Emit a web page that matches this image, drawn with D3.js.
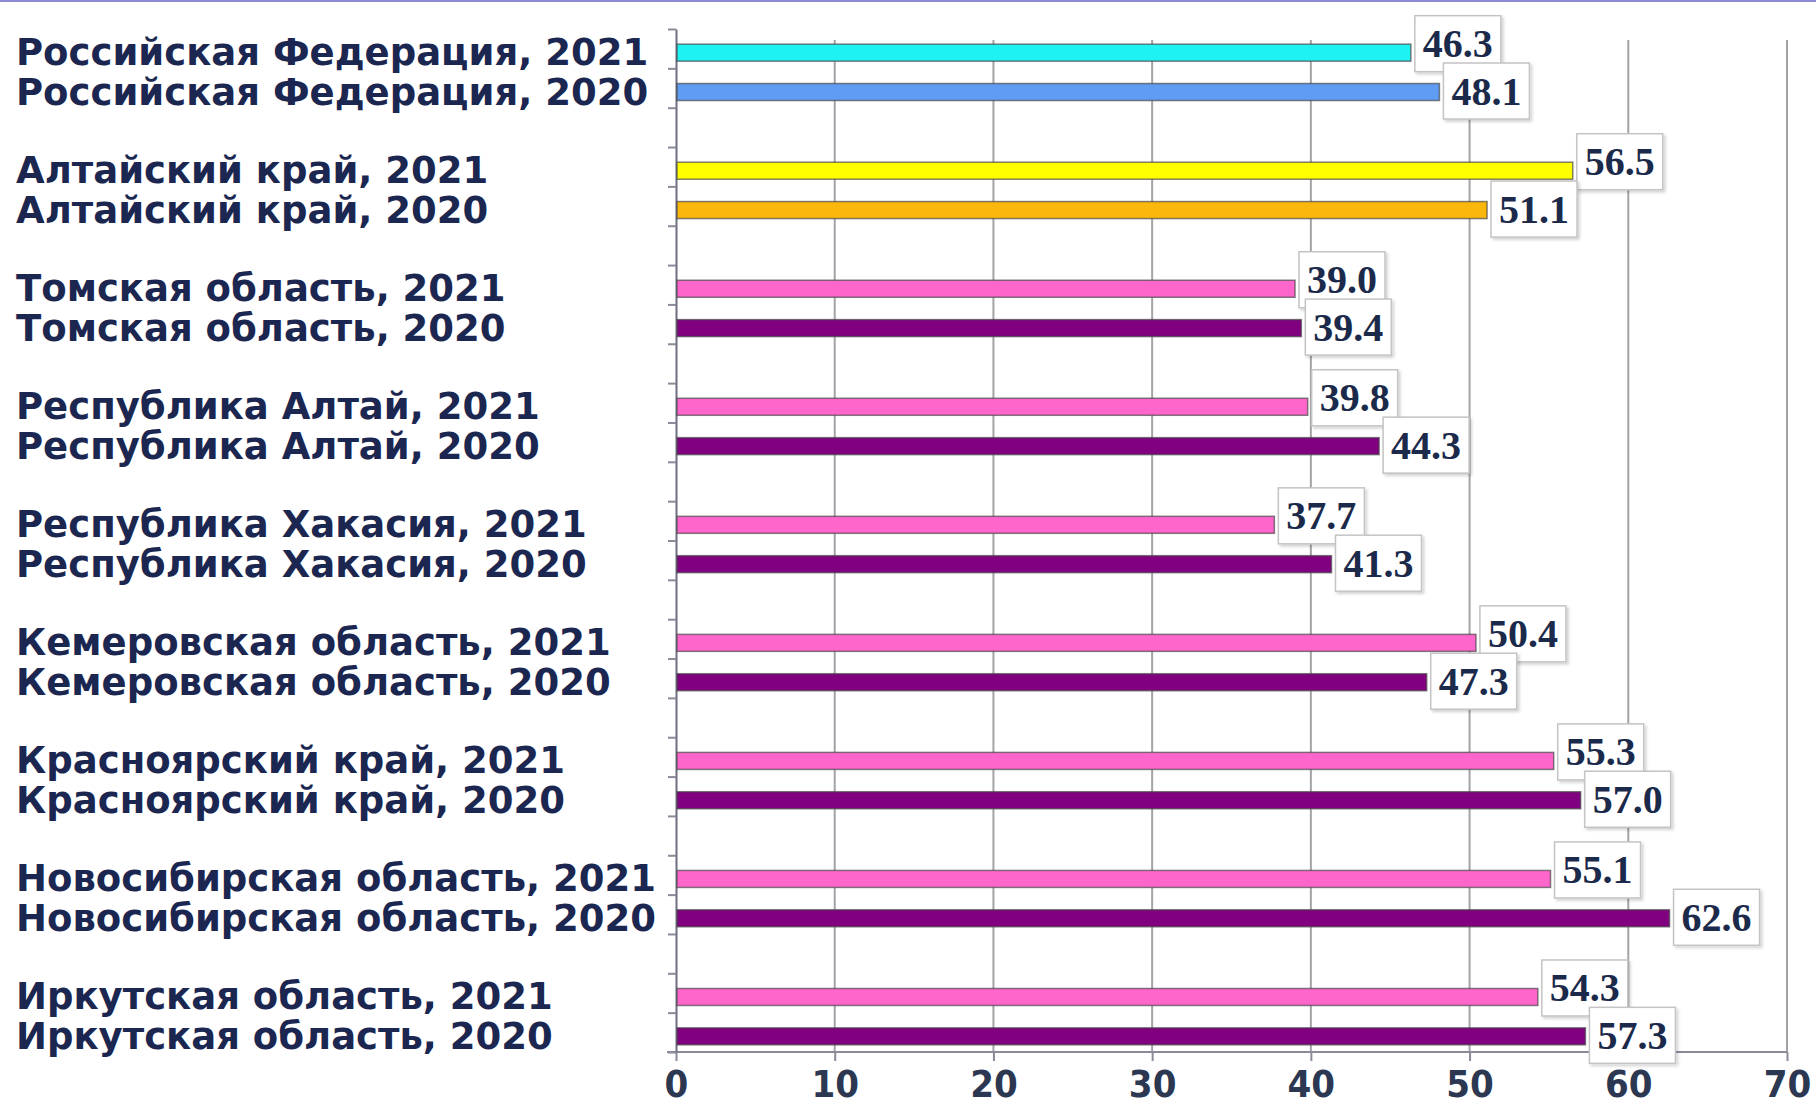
<!DOCTYPE html>
<html>
<head>
<meta charset="utf-8">
<script src="https://cdn.jsdelivr.net/npm/d3@7"></script>
<style>
    body { margin: 0; background: #fff; }
    .cat-label { font-family: "DejaVu Sans", Verdana, sans-serif; font-weight: bold; font-size: 37px; fill: #1b2750; }
    .val-label { font-family: "Liberation Serif", "Times New Roman", serif; font-weight: bold; font-size: 40px; fill: #1b2a4a; }
    .x-axis text { font-family: "Liberation Sans Narrow", "DejaVu Sans Condensed", sans-serif; font-weight: bold; font-size: 38px; fill: #2c3852; }
</style>
</head>
<body>
<svg class="chart" width="1816" height="1109"></svg>
<script>
    // data
    let regions = ["Российская Федерация", "Алтайский край", "Томская область", "Республика Алтай",
        "Республика Хакасия", "Кемеровская область", "Красноярский край", "Новосибирская область",
        "Иркутская область"];
    let years = ["2021", "2020"];
    let values2021 = [46.3, 56.5, 39.0, 39.8, 37.7, 50.4, 55.3, 55.1, 54.3];
    let values2020 = [48.1, 51.1, 39.4, 44.3, 41.3, 47.3, 57.0, 62.6, 57.3];
    let xTicks = [0, 10, 20, 30, 40, 50, 60, 70];

    // fill colours: first two regions have own colours, the rest share pink / purple
    let colors2021 = ["#1ff2f2", "#ffff00", "#ff66cc", "#ff66cc", "#ff66cc", "#ff66cc", "#ff66cc", "#ff66cc", "#ff66cc"];
    let colors2020 = ["#5f9cf4", "#fbb80c", "#800080", "#800080", "#800080", "#800080", "#800080", "#800080", "#800080"];

    let svg = d3.select(".chart"),
        margin = {top: 29, right: 29, bottom: 57, left: 676},
        width = +svg.attr("width") - margin.left - margin.right,
        height = +svg.attr("height") - margin.top - margin.bottom;

    // thin frame line at the very top
    svg.append("line")
        .attr("x1", 0).attr("x2", 1816).attr("y1", 1).attr("y2", 1)
        .attr("stroke", "#8c8cd6").attr("stroke-width", 2);

    let defs = svg.append("defs");
    let shadow = defs.append("filter").attr("id", "shadow").attr("x", "-20%").attr("y", "-20%")
        .attr("width", "150%").attr("height", "150%");
    shadow.append("feDropShadow").attr("dx", 2).attr("dy", 2).attr("stdDeviation", 1.5)
        .attr("flood-color", "#000").attr("flood-opacity", 0.18);

    let g = svg.append("g").attr("transform", "translate(" + margin.left + "," + margin.top + ")");

    // rows: two bars per region, an empty slot between regions
    let rows = [];
    regions.forEach(function (r, i) {
        rows.push({key: i + "-2021", region: r, year: years[0], value: values2021[i], color: colors2021[i], first: true});
        rows.push({key: i + "-2020", region: r, year: years[1], value: values2020[i], color: colors2020[i], first: false});
        if (i < regions.length - 1) rows.push({key: "gap-" + i, gap: true});
    });
    let bars = rows.filter(function (d) { return !d.gap; });

    let x = d3.scaleLinear().domain([0, 70]).range([0, width]);
    let y = d3.scaleBand().domain(rows.map(function (d) { return d.key; })).range([0, height]);
    let slots = d3.scaleLinear().domain([0, rows.length]).range([0, height]);

    let barH = 17;

    // vertical grid
    g.append("g")
        .selectAll("line")
        .data(xTicks.filter(function (t) { return t > 0; }))
        .enter().append("line")
        .attr("x1", function (d) { return x(d); })
        .attr("x2", function (d) { return x(d); })
        .attr("y1", 11)
        .attr("y2", height)
        .attr("stroke", "#a3a3a8")
        .attr("stroke-width", 2);

    // bottom axis
    let xAxis = g.append("g")
        .attr("class", "x-axis")
        .attr("transform", "translate(0," + height + ")")
        .call(d3.axisBottom(x).tickValues(xTicks).tickSize(9).tickPadding(9).tickSizeOuter(0));
    xAxis.select(".domain").attr("stroke", "#8a8a98").attr("stroke-width", 2)
        .attr("d", "M-9,0H" + width);
    xAxis.selectAll(".tick line").attr("stroke", "#8a8a98").attr("stroke-width", 2);

    // left axis with a tick at every slot boundary
    let yAxis = g.append("g")
        .call(d3.axisLeft(slots).tickValues(d3.range(rows.length + 1)).tickFormat("").tickSize(8).tickSizeOuter(0));
    yAxis.select(".domain").attr("stroke", "#6e6e82").attr("stroke-width", 2);
    yAxis.selectAll(".tick line").attr("stroke", "#8a8a98").attr("stroke-width", 2);

    // bars
    g.append("g")
        .selectAll("rect")
        .data(bars)
        .enter().append("rect")
        .attr("x", x(0) + 1)
        .attr("y", function (d) { return y(d.key) + y.bandwidth() / 2 - barH / 2 + 4; })
        .attr("width", function (d) { return x(d.value) - x(0) - 1; })
        .attr("height", barH)
        .attr("fill", function (d) { return d.color; })
        .attr("stroke", "#4a4a4a")
        .attr("stroke-opacity", 0.7)
        .attr("stroke-width", 1.5);

    // category labels
    svg.append("g")
        .selectAll("text")
        .data(bars)
        .enter().append("text")
        .attr("class", "cat-label")
        .attr("x", 16)
        .attr("y", function (d) { return margin.top + y(d.key) + y.bandwidth() / 2 + 4; })
        .attr("dominant-baseline", "central")
        .text(function (d) { return d.region + ", " + d.year; });

    // value labels in boxes
    let labels = g.append("g")
        .selectAll("g")
        .data(bars)
        .enter().append("g")
        .attr("transform", function (d) {
            let cy = y(d.key) + y.bandwidth() / 2 + (d.first ? -5 : 3);
            return "translate(" + (x(d.value) + 4) + "," + cy + ")";
        });

    labels.append("rect")
        .attr("x", 0)
        .attr("y", -28)
        .attr("width", 86)
        .attr("height", 56)
        .attr("fill", "#fff")
        .attr("stroke", "#c4c4c4")
        .attr("stroke-width", 1.5)
        .attr("filter", "url(#shadow)");

    labels.append("text")
        .attr("class", "val-label")
        .attr("x", 43)
        .attr("y", 0)
        .attr("text-anchor", "middle")
        .attr("dominant-baseline", "central")
        .text(function (d) { return d.value.toFixed(1); });
</script>
</body>
</html>
